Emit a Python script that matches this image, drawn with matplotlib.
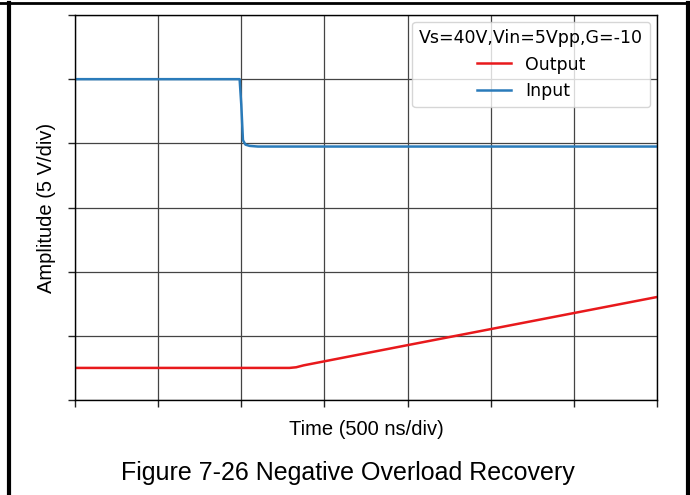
import numpy as np
import matplotlib
matplotlib.use("Agg")
import matplotlib.pyplot as plt
from matplotlib.lines import Line2D

# values in divisions (x: 500 ns/div, y: 5 V/div, 0 = bottom of screen)
input_t = [0.0, 1.98, 2.00, 2.02, 2.05, 2.10, 2.20, 2.40, 3.0, 5.0, 7.0]
input_v = [5.0, 5.0, 4.60, 4.05, 3.98, 3.96, 3.95, 3.95, 3.95, 3.95, 3.95]

output_t = [0.0, 2.45, 2.58, 2.66, 2.75, 4.0, 5.0, 6.0, 7.0]
output_v = [0.5, 0.5, 0.5, 0.51, 0.54, 0.855, 1.105, 1.355, 1.605]

legend_title = "Vs=40V,Vin=5Vpp,G=-10"
caption = "Figure 7-26 Negative Overload Recovery"

fig = plt.figure(figsize=(6.9, 4.95), dpi=100)
ax = fig.add_axes([75 / 690, 1 - 400 / 495, (657 - 75) / 690, (400 - 15) / 495])

ax.plot(output_t, output_v, color="#e8191c", lw=1.8, label="Output")
ax.plot(input_t, input_v, color="#2a7bba", lw=1.8, label="Input")

ax.set_xlim(0, 7)
ax.set_ylim(0, 6)
ax.set_xticks(np.arange(0, 8))
ax.set_yticks(np.arange(0, 7))
ax.set_xticklabels([])
ax.set_yticklabels([])
ax.tick_params(length=5, width=1, color="#222222")
ax.grid(True, color="#444444", lw=0.9)
for s in ax.spines.values():
    s.set_color("black")
    s.set_linewidth(1.0)

ax.set_xlabel("Time (500 ns/div)", family="Liberation Sans", fontsize=14.5, labelpad=6)
ax.set_ylabel("Amplitude (5 V/div)", family="Liberation Sans", fontsize=14.5, labelpad=5)

leg = ax.legend(title=legend_title, loc="upper right", fontsize=12.5,
                title_fontsize=12.5, framealpha=0.8, borderaxespad=0.4,
                prop={"family": "DejaVu Sans", "size": 12.5})

fig.text(348 / 690, 1 - 473 / 495, caption, family="Liberation Sans",
         fontsize=18, ha="center", va="center")

# page frame around the figure
frame = [Line2D([9 / 690, 9 / 690], [0, 1 - 3 / 495], lw=3, color="black"),
         Line2D([0, 1], [1 - 3 / 495, 1 - 3 / 495], lw=2, color="black"),
         Line2D([688 / 690, 688 / 690], [0, 1 - 3 / 495], lw=3, color="black")]
for ln in frame:
    ln.set_transform(fig.transFigure)
    fig.add_artist(ln)

fig.savefig("out.png", dpi=100)
